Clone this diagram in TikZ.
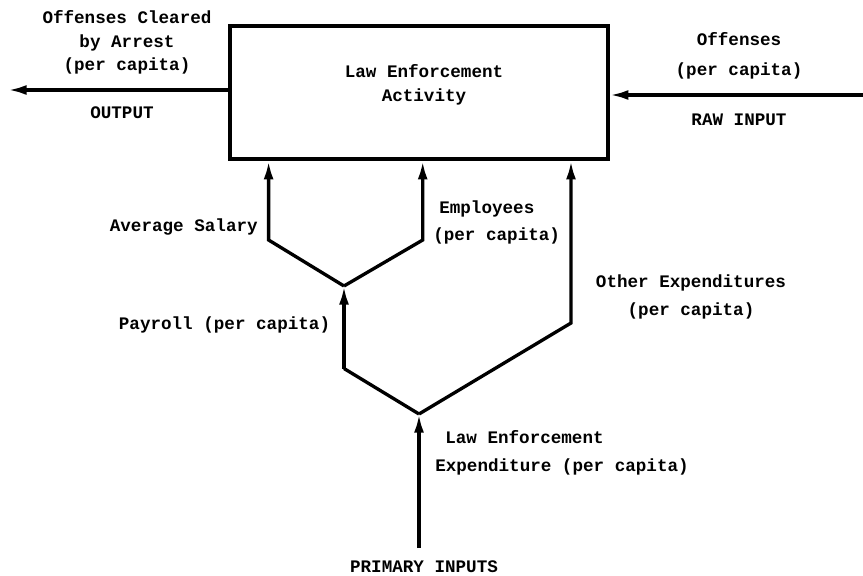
\documentclass[tikz,border=0pt]{standalone}
\usepackage{fontspec}
\setmainfont{Liberation Mono}
\usetikzlibrary{arrows.meta}
\begin{document}
\begin{tikzpicture}[x=0.75pt,y=-0.75pt,
  lbl/.style={font=\bfseries\fontsize{13.2}{17.6}\selectfont, inner sep=0pt, align=center},
  wide/.style={font=\bfseries\fontsize{13.2}{20.6}\selectfont},
  conn/.style={line width=2.5pt, line join=miter},
  arr/.style={conn, -{Latex[length=14pt,width=7.5pt]}},
  boxstyle/.style={draw, line width=2.7pt, minimum width=283.5pt, minimum height=99.75pt, inner sep=0pt}]
\useasboundingbox (0,0) rectangle (863,575);
% main box
\node (box) [boxstyle] at (419,92.5) {};
\node (boxtxt) [lbl, font=\bfseries\fontsize{13.2}{18}\selectfont] at (424,85) {Law Enforcement\\Activity};
% output / raw input
\coordinate (outend) at (8,90);
\coordinate (rawstart) at (863,95);
\draw[arr] (box.west |- outend) -- (outend);
\draw[arr] (rawstart) -- (box.east |- rawstart);
\node (outlbl) [lbl] at (127,42.5) {Offenses Cleared\\by Arrest\\(per capita)};
\node (outtag) [lbl] at (122,113) {OUTPUT};
\node (rawlbl) [lbl, font=\bfseries\fontsize{13.2}{22.5}\selectfont] at (739,56) {Offenses\\(per capita)};
\node (rawtag) [lbl] at (739,120) {RAW INPUT};
% tree of inputs
\coordinate (prim) at (419,548);
\coordinate (j2) at (419,414);
\coordinate (pc) at (344,368.5);
\coordinate (oc) at (571,323);
\coordinate (j1) at (344,286);
\coordinate (sL) at (268.6,240);
\coordinate (sR) at (422.7,240);
\draw[arr] (prim) -- (j2);
\draw[conn] (j2) -- (pc);
\draw[arr] (pc) -- (j1);
\draw[arr] (j2) -- (oc) -- (oc |- box.south);
\draw[arr] (j1) -- (sL) -- (sL |- box.south);
\draw[arr] (j1) -- (sR) -- (sR |- box.south);
% labels
\node (avg) [lbl, anchor=east] at (258,227) {Average Salary};
\node (emp) [lbl, wide, align=left, anchor=west] at (433,222.5) {\hspace*{4.5pt}Employees\\(per capita)};
\node (other) [lbl, font=\bfseries\fontsize{13.2}{20.6}\selectfont] at (691,297) {Other Expenditures\\(per capita)};
\node (payroll) [lbl] at (224.5,325) {Payroll (per capita)};
\node (lee) [lbl, font=\bfseries\fontsize{13.2}{20.6}\selectfont, align=left, anchor=west] at (435,453) {\hspace*{7.5pt}Law Enforcement\\Expenditure (per capita)};
\node (primlbl) [lbl] at (424,566.5) {PRIMARY INPUTS};
\end{tikzpicture}
\end{document}
